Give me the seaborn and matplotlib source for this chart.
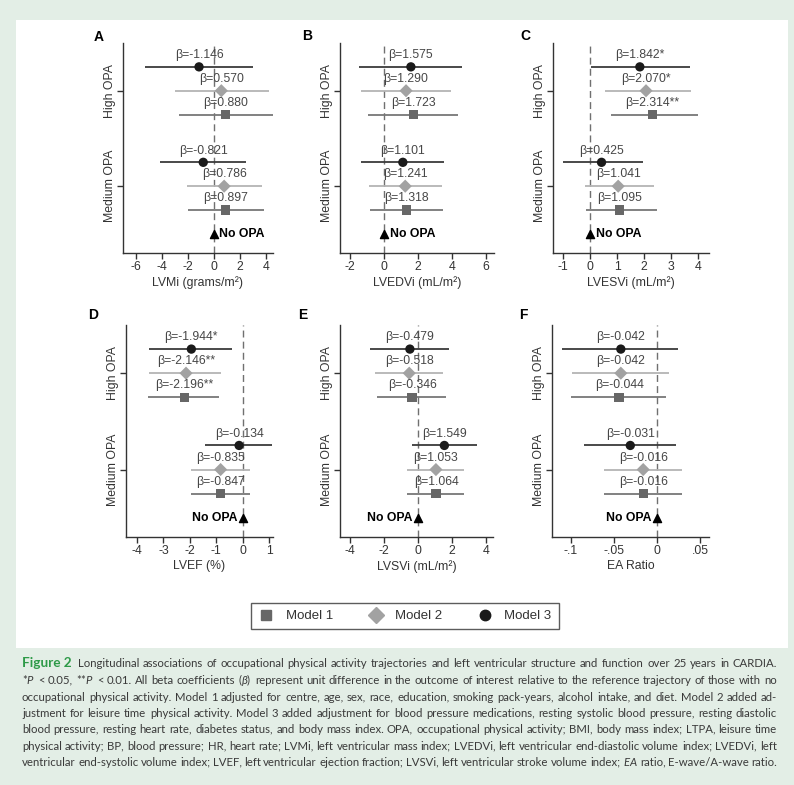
import math
import pandas as pd
import matplotlib
matplotlib.use('Agg')
import matplotlib.pyplot as plt
from matplotlib.lines import Line2D
from matplotlib.patches import Rectangle
from matplotlib.font_manager import FontProperties
from matplotlib.backends.backend_agg import get_hinting_flag
import seaborn as sns

# --- data ---
groups = ['High OPA'] * 3 + ['Medium OPA'] * 3
models = ['Model 3', 'Model 2', 'Model 1'] * 2

# A: LVMi
lvmi_beta = [-1.146, 0.570, 0.880, -0.821, 0.786, 0.897]
lvmi_lo = [-5.30, -3.03, -2.72, -4.14, -2.08, -2.03]
lvmi_hi = [3.01, 4.22, 4.52, 2.47, 3.70, 3.83]
lvmi_sig = ['', '', '', '', '', '']

# B: LVEDVi
lvedvi_beta = [1.575, 1.290, 1.723, 1.101, 1.241, 1.318]
lvedvi_lo = [-1.51, -1.37, -0.96, -1.35, -0.88, -0.82]
lvedvi_hi = [4.57, 3.94, 4.37, 3.53, 3.39, 3.45]
lvedvi_sig = ['', '', '', '', '', '']

# C: LVESVi
lvesvi_beta = [1.842, 2.070, 2.314, 0.425, 1.041, 1.095]
lvesvi_lo = [0.05, 0.54, 0.77, -1.00, -0.20, -0.16]
lvesvi_hi = [3.69, 3.73, 4.00, 1.96, 2.37, 2.46]
lvesvi_sig = ['*', '*', '**', '', '', '']

# D: LVEF
lvef_beta = [-1.944, -2.146, -2.196, -0.134, -0.835, -0.847]
lvef_lo = [-3.53, -3.53, -3.58, -1.42, -1.95, -1.95]
lvef_hi = [-0.41, -0.82, -0.88, 1.12, 0.28, 0.28]
lvef_sig = ['*', '**', '**', '', '', '']

# E: LVSVi
lvsvi_beta = [-0.479, -0.518, -0.346, 1.549, 1.053, 1.064]
lvsvi_lo = [-2.82, -2.53, -2.39, -0.37, -0.63, -0.63]
lvsvi_hi = [1.84, 1.49, 1.63, 3.45, 2.71, 2.71]
lvsvi_sig = ['', '', '', '', '', '']

# F: EA ratio
ea_beta = [-0.042, -0.042, -0.044, -0.031, -0.016, -0.016]
ea_lo = [-0.110, -0.099, -0.100, -0.085, -0.061, -0.062]
ea_hi = [0.025, 0.014, 0.011, 0.022, 0.029, 0.029]
ea_sig = ['', '', '', '', '', '']

caption_head = 'Figure 2'
caption_lines = [
    'Longitudinal associations of occupational physical activity trajectories and left ventricular structure and function over 25 years in CARDIA.',
    r'*$\mathit{P}$ < 0.05, **$\mathit{P}$ < 0.01. All beta coefficients ($\mathit{\beta}$) represent unit difference in the outcome of interest relative to the reference trajectory of those with no',
    'occupational physical activity. Model 1 adjusted for centre, age, sex, race, education, smoking pack-years, alcohol intake, and diet. Model 2 added ad-',
    'justment for leisure time physical activity. Model 3 added adjustment for blood pressure medications, resting systolic blood pressure, resting diastolic',
    'blood pressure, resting heart rate, diabetes status, and body mass index. OPA, occupational physical activity; BMI, body mass index; LTPA, leisure time',
    'physical activity; BP, blood pressure; HR, heart rate; LVMi, left ventricular mass index; LVEDVi, left ventricular end-diastolic volume index; LVEDVi, left',
    r'ventricular end-systolic volume index; LVEF, left ventricular ejection fraction; LVSVi, left ventricular stroke volume index; $\mathit{EA}$ ratio, E-wave/A-wave ratio.',
]

# --- style ---
sns.set_style('white')
plt.rcParams['font.family'] = ['Liberation Sans', 'DejaVu Sans']
plt.rcParams['mathtext.fontset'] = 'custom'
plt.rcParams['mathtext.rm'] = 'Lato'
plt.rcParams['mathtext.it'] = 'Lato:italic'

W, H = 794, 785
group_pos = {'High OPA': 7, 'Medium OPA': 3}
model_offset = {'Model 3': 1, 'Model 2': 0, 'Model 1': -1}
marker_colors = {'Model 1': '#676767', 'Model 2': '#a2a2a2', 'Model 3': '#1a1a1a'}
line_colors = {'Model 1': '#777777', 'Model 2': '#b4b4b4', 'Model 3': '#3a3a3a'}
marker_shapes = {'Model 1': 's', 'Model 2': 'D', 'Model 3': 'o'}
ink = '#333333'
fs = 8.8


def px_rect(left, top, right, bottom):
    return [left / W, 1 - bottom / H, (right - left) / W, (bottom - top) / H]


def draw_panel(ax, beta, lo, hi, sig, xlabel, xlim, ticks, ticklabels, ref_left):
    df = pd.DataFrame({'group': groups, 'model': models, 'beta': beta,
                       'lo': lo, 'hi': hi, 'sig': sig})
    df['y'] = df['group'].map(group_pos) + df['model'].map(model_offset)

    ax.axvline(0, color='#707070', lw=1, ls=(0, (5, 3)), zorder=1)
    for m, sub in df.groupby('model'):
        ax.hlines(sub['y'], sub['lo'], sub['hi'], color=line_colors[m], lw=1.3, zorder=2)
    sns.scatterplot(data=df, x='beta', y='y', hue='model', style='model',
                    palette=marker_colors, markers=marker_shapes, s=45,
                    edgecolor='none', legend=False, ax=ax, zorder=3)
    for _, r in df.iterrows():
        ax.annotate(f"β={r['beta']:.3f}{r['sig']}", (r['beta'], r['y']),
                    xytext=(0, 8.5), textcoords='offset points', ha='center',
                    va='center', fontsize=fs, color='#474747', zorder=4)

    # reference group
    ax.scatter([0], [1], marker='^', s=34, color='black', zorder=3)
    ax.annotate('No OPA', (0, 1), xytext=(4 if not ref_left else -4, 0),
                textcoords='offset points', ha='right' if ref_left else 'left',
                va='center', fontsize=fs, fontweight='bold', color='black')

    ax.set_xlim(*xlim)
    ax.set_ylim(0.2, 9.0)
    ax.set_xticks(ticks)
    ax.set_xticklabels(ticklabels)
    ax.set_yticks([group_pos['High OPA'], group_pos['Medium OPA']])
    ax.set_yticklabels(['High OPA', 'Medium OPA'], rotation=90, va='center')
    ax.set_xlabel(xlabel, fontsize=fs, color=ink, labelpad=2)
    ax.set_ylabel('')
    ax.set_facecolor('none')
    for s in ['top', 'right']:
        ax.spines[s].set_visible(False)
    for s in ['left', 'bottom']:
        ax.spines[s].set_color(ink)
        ax.spines[s].set_linewidth(1)
    ax.tick_params(direction='out', length=4, width=1, color=ink,
                   labelsize=fs, labelcolor=ink, pad=2, left=True, bottom=True)
    ax.tick_params(axis='y', pad=1)


fig = plt.figure(figsize=(W / 100, H / 100), dpi=100)
fig.patch.set_facecolor('#e3eee6')
fig.add_artist(Rectangle((16 / W, 1 - 648 / H), (788 - 16) / W, (648 - 20) / H,
                         transform=fig.transFigure, facecolor='white',
                         edgecolor='none', zorder=-1))

panels = [
    ('A', px_rect(123, 43, 273, 253), lvmi_beta, lvmi_lo, lvmi_hi, lvmi_sig,
     'LVMi (grams/m²)', (-7.0, 4.55), [-6, -4, -2, 0, 2, 4],
     ['-6', '-4', '-2', '0', '2', '4'], False, (99, 37)),
    ('B', px_rect(340, 43, 494, 253), lvedvi_beta, lvedvi_lo, lvedvi_hi, lvedvi_sig,
     'LVEDVi (mL/m²)', (-2.6, 6.47), [-2, 0, 2, 4, 6],
     ['-2', '0', '2', '4', '6'], False, (307, 36)),
    ('C', px_rect(553, 43, 709, 253), lvesvi_beta, lvesvi_lo, lvesvi_hi, lvesvi_sig,
     'LVESVi (mL/m²)', (-1.37, 4.4), [-1, 0, 1, 2, 3, 4],
     ['-1', '0', '1', '2', '3', '4'], False, (525, 36)),
    ('D', px_rect(126, 325, 273, 537), lvef_beta, lvef_lo, lvef_hi, lvef_sig,
     'LVEF (%)', (-4.42, 1.15), [-4, -3, -2, -1, 0, 1],
     ['-4', '-3', '-2', '-1', '0', '1'], True, (93, 315)),
    ('E', px_rect(340, 325, 493, 537), lvsvi_beta, lvsvi_lo, lvsvi_hi, lvsvi_sig,
     'LVSVi (mL/m²)', (-4.59, 4.41), [-4, -2, 0, 2, 4],
     ['-4', '-2', '0', '2', '4'], True, (303, 315)),
    ('F', px_rect(552, 325, 709, 537), ea_beta, ea_lo, ea_hi, ea_sig,
     'EA Ratio', (-0.122, 0.0605), [-0.1, -0.05, 0, 0.05],
     ['-.1', '-.05', '0', '.05'], True, (523, 315)),
]

for letter, rect, b, lo, hi, sg, xl, lim, tk, tl, ref_left, lpos in panels:
    ax = fig.add_axes(rect)
    draw_panel(ax, b, lo, hi, sg, xl, lim, tk, tl, ref_left)
    fig.text(lpos[0] / W, 1 - lpos[1] / H, letter, ha='center', va='center',
             fontsize=10, fontweight='bold', color='black')

# legend
handles = [Line2D([], [], ls='none', marker=marker_shapes[m], color=marker_colors[m],
                  markersize=ms, label=m)
           for m, ms in [('Model 1', 7), ('Model 2', 8), ('Model 3', 7.5)]]
leg = fig.legend(handles=handles, loc='center', bbox_to_anchor=(405 / W, 1 - 616 / H),
                 ncol=3, frameon=True, fancybox=False, fontsize=9.5,
                 handletextpad=0.9, columnspacing=2.6, handlelength=1.2,
                 borderpad=0.55, borderaxespad=0)
leg.get_frame().set_edgecolor(ink)
leg.get_frame().set_linewidth(1)
for t in leg.get_texts():
    t.set_color(ink)

# caption: word by word, justified between x_left and x_right
renderer = fig.canvas.get_renderer()
cap_font = dict(family=['Lato', 'DejaVu Sans'], fontsize=8.2, color='#3a3a3a')
cap_prop = FontProperties(family=cap_font['family'], size=cap_font['fontsize'])
x_left, x_right = 22, 777
line_base = [667, 684, 701, 717, 733, 750, 766]


def row_shift(word, yb):
    # Agg rounds each word's bitmap on its own; work out that rounding so that
    # all words of a line end up on the same pixel baseline.
    if '$' in word:
        return 0
    font = renderer._prepare_font(cap_prop)
    font.set_text(word, 0, flags=get_hinting_flag())
    _, h = font.get_width_height()
    d = font.get_descent() / 64
    hh = h / 64
    return round(yb + d) - yb - math.floor(hh) + math.floor(hh - d)


def justify(words, yy, start):
    texts = [fig.text(0, 1 - yy / H, w, ha='left', va='baseline', **cap_font) for w in words]
    widths = [t.get_window_extent(renderer).width for t in texts]
    gap = (x_right - start - sum(widths)) / max(len(words) - 1, 1)
    x = start
    for t, w, word in zip(texts, widths, words):
        c = row_shift(word, yy)
        t.set_position((x / W, (H - yy + c) / H))
        x += w + gap


head = fig.text(x_left / W, 1 - line_base[0] / H, caption_head, ha='left', va='baseline',
                family=['Lato', 'DejaVu Sans'], fontsize=9.8, fontweight='bold',
                color='#2e9a48')
head_w = head.get_window_extent(renderer).width
justify(caption_lines[0].split(' '), line_base[0], x_left + head_w + 6)
for yy, txt in zip(line_base[1:], caption_lines[1:]):
    justify(txt.split(' '), yy, x_left)

fig.savefig('out.png', dpi=100, facecolor=fig.get_facecolor())
